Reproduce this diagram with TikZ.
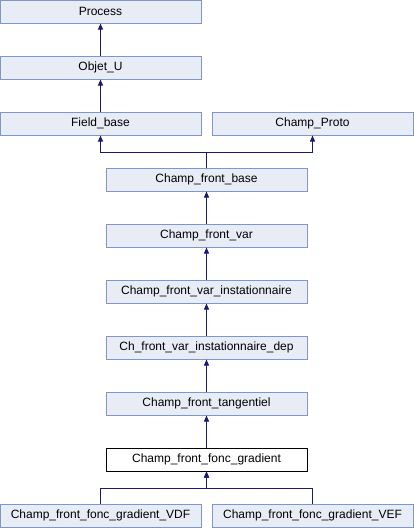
\documentclass[tikz,border=0pt]{standalone}
\usepackage{fontspec}
\setmainfont{Liberation Sans}
\usetikzlibrary{arrows.meta}
\definecolor{boxfill}{HTML}{E8ECF5}
\definecolor{boxline}{HTML}{7F96C8}
\definecolor{edge}{HTML}{191970}
\begin{document}
\begin{tikzpicture}[x=1pt,y=-1pt,
  cls/.style={draw=boxline,fill=boxfill,line width=1pt,minimum width=201pt,minimum height=23pt,inner sep=0pt,font=\fontsize{12}{14}\selectfont},
  cur/.style={cls,draw=black,fill=white},
  arr/.style={draw=edge,line width=1pt,-{Triangle[length=6pt,width=5pt]}}]
\useasboundingbox (0,0) rectangle (414,528);
\node[cls] (process) at (100.5,11.5) {Process};
\node[cls] (objet) at (100.5,67.5) {Objet\_U};
\node[cls] (field) at (100.5,123.5) {Field\_base};
\node[cls] (proto) at (312.5,123.5) {Champ\_Proto};
\node[cls] (cfb) at (206.5,179.5) {Champ\_front\_base};
\node[cls] (cfv) at (206.5,235.5) {Champ\_front\_var};
\node[cls] (cfvi) at (206.5,291.5) {Champ\_front\_var\_instationnaire};
\node[cls] (chdep) at (206.5,347.5) {Ch\_front\_var\_instationnaire\_dep};
\node[cls] (tang) at (206.5,403.5) {Champ\_front\_tangentiel};
\node[cur] (grad) at (206.5,459.5) {Champ\_front\_fonc\_gradient};
\node[cls] (vdf) at (100.5,515.5) {Champ\_front\_fonc\_gradient\_VDF};
\node[cls] (vef) at (312.5,515.5) {Champ\_front\_fonc\_gradient\_VEF};
\coordinate (j1) at (206.5,152.5);
\coordinate (j2) at (206.5,488.5);
\draw[arr] (objet) -- (process);
\draw[arr] (field) -- (objet);
\draw[arr] (cfb.north) -- (j1) -| (field.south);
\draw[arr] (j1) -| (proto.south);
\draw[arr] (cfv) -- (cfb);
\draw[arr] (cfvi) -- (cfv);
\draw[arr] (chdep) -- (cfvi);
\draw[arr] (tang) -- (chdep);
\draw[arr] (grad) -- (tang);
\draw[arr] (vdf.north) |- (j2) -- (grad.south);
\draw[arr] (vef.north) |- (j2) -- (grad.south);
\end{tikzpicture}
\end{document}
